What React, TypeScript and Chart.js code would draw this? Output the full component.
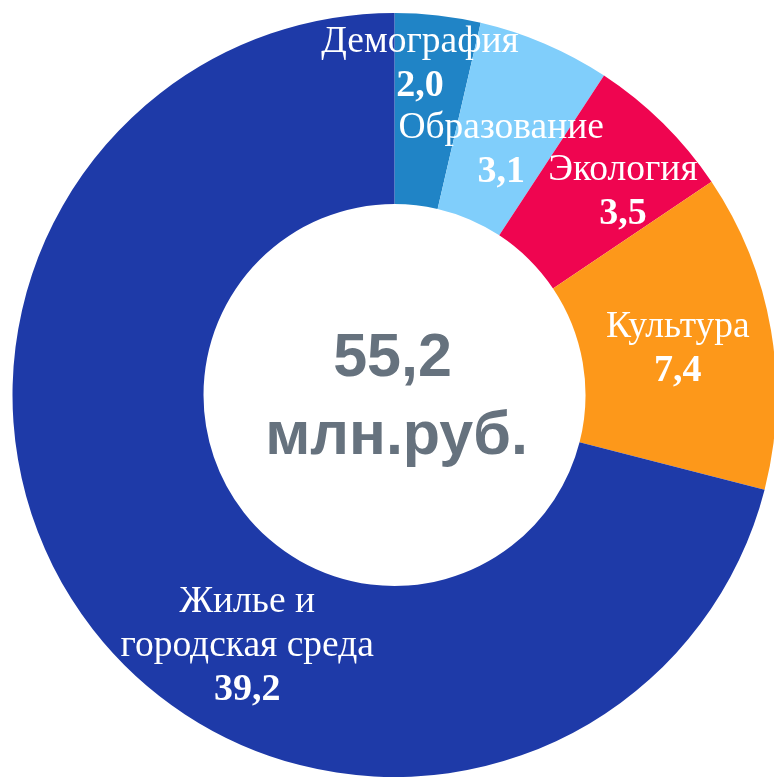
import React, { useEffect, useRef } from "react";
import { Chart, registerables } from "chart.js";

Chart.register(...registerables);

const categories: string[][] = [
  ["Демография"],
  ["Образование"],
  ["Экология"],
  ["Культура"],
  ["Жилье и", "городская среда"],
];
const values: number[] = [2.0, 3.1, 3.5, 7.4, 39.2];
const valueLabels: string[] = ["2,0", "3,1", "3,5", "7,4", "39,2"];
const colors: string[] = ["#2084c6", "#80cefb", "#ef0550", "#fd981a", "#1e3aa8"];
const centerLines: string[] = ["55,2", "млн.руб."];
// label nudges (px) from the mid-ring point of each slice
const labelNudges: [number, number][] = [
  [-7, -36],
  [-6, 28],
  [27, 11],
  [1, 13],
  [79, 85],
];

const labelPlugin = {
  id: "sliceLabels",
  afterDatasetsDraw(chart: any) {
    const ctx = chart.ctx;
    const meta = chart.getDatasetMeta(0);
    ctx.save();
    ctx.textAlign = "center";
    ctx.textBaseline = "alphabetic";
    ctx.fillStyle = "#ffffff";
    meta.data.forEach((arc: any, i: number) => {
      const { x, y, startAngle, endAngle, innerRadius, outerRadius } = arc.getProps(
        ["x", "y", "startAngle", "endAngle", "innerRadius", "outerRadius"],
        true
      );
      const mid = (startAngle + endAngle) / 2;
      const r = (innerRadius + outerRadius) / 2;
      const cx = x + Math.cos(mid) * r + labelNudges[i][0];
      const cy = y + Math.sin(mid) * r + labelNudges[i][1];
      const lines = [...categories[i], valueLabels[i]];
      const step = 44;
      const n = lines.length;
      lines.forEach((line, j) => {
        const isValue = j === n - 1;
        ctx.font = isValue
          ? 'bold 38px "Liberation Serif", "Times New Roman", serif'
          : '37.5px "Liberation Serif", "Times New Roman", serif';
        ctx.fillText(line, cx, cy + (j - (n - 1) / 2) * step);
      });
    });
    // center text
    const arc0 = meta.data[0];
    const cx0 = arc0.x;
    const cy0 = arc0.y;
    ctx.fillStyle = "#66727e";
    ctx.font = 'bold 61px "Liberation Sans", Arial, sans-serif';
    ctx.fillText(centerLines[0], cx0 - 2, cy0 - 19);
    ctx.fillText(centerLines[1], cx0 + 2, cy0 + 59);
    ctx.restore();
  },
};

export default function App() {
  const ref = useRef<HTMLCanvasElement | null>(null);
  useEffect(() => {
    document.body.style.margin = "0";
    document.body.style.overflow = "hidden";
    const chart = new Chart(ref.current!, {
      type: "doughnut",
      data: {
        labels: categories.map((c) => c.join(" ")),
        datasets: [
          {
            data: values,
            backgroundColor: colors,
            borderWidth: 0,
          },
        ],
      },
      options: {
        animation: false,
        responsive: false,
        cutout: "50%",
        rotation: 0,
        layout: { padding: { left: 12, top: 13, right: 0, bottom: 1 } },
        plugins: {
          legend: { display: false },
          tooltip: { enabled: false },
        },
      },
      plugins: [labelPlugin],
    });
    return () => chart.destroy();
  }, []);
  return (
    <div style={{ position: "absolute", left: 0, top: 0, width: 777, height: 778 }}>
      <canvas ref={ref} width={777} height={778} style={{ width: 777, height: 778 }} />
    </div>
  );
}
